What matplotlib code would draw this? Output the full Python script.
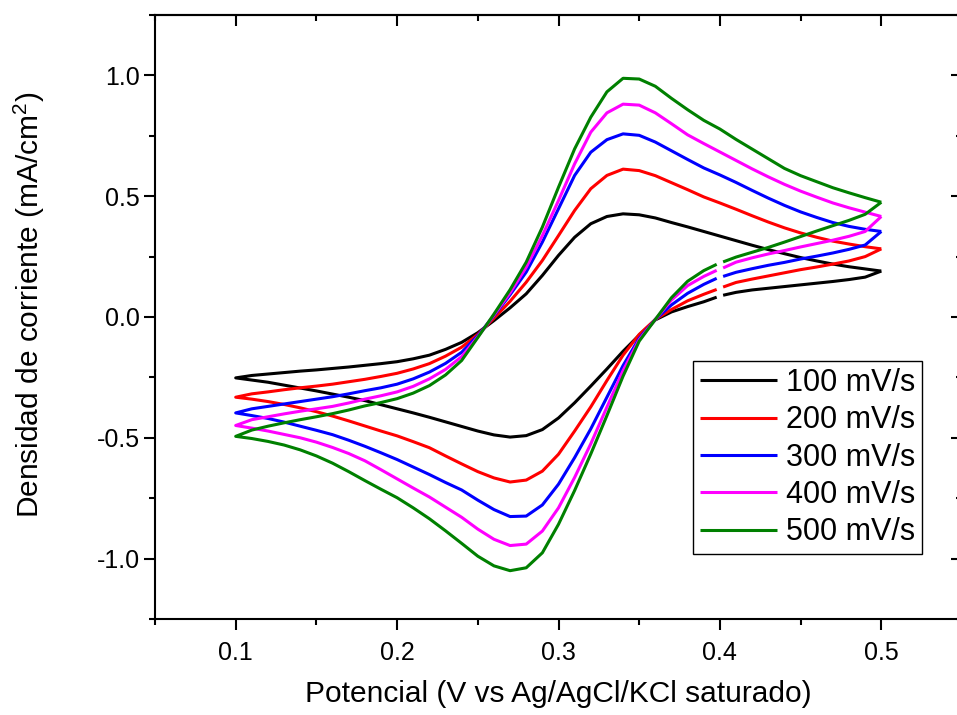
import numpy as np
import matplotlib
matplotlib.use("Agg")
import matplotlib.pyplot as plt
from matplotlib.ticker import MultipleLocator, FormatStrFormatter

plt.rcParams["font.family"] = ["Liberation Sans", "DejaVu Sans"]
plt.rcParams["mathtext.default"] = "regular"
plt.rcParams["axes.unicode_minus"] = False

# Potential grids (V). The reverse sweep starts and ends near 0.40 V,
# so that branch is stored as two pieces with a small break at 0.40 V.
E_fwd = np.round(np.arange(0.10, 0.5001, 0.01), 3)
E_rev_low = np.append(np.round(np.arange(0.10, 0.3901, 0.01), 3), 0.398)
E_rev_high = np.insert(np.round(np.arange(0.41, 0.5001, 0.01), 3), 0, 0.402)

scan_rates = ["100 mV/s", "200 mV/s", "300 mV/s", "400 mV/s", "500 mV/s"]
colors = ["#000000", "#ff0000", "#0000ff", "#ff00ff", "#008000"]

# Anodic (forward) sweep, 0.10 -> 0.50 V, current density in mA/cm2
j_fwd_100 = [-0.252, -0.242, -0.236, -0.230, -0.224, -0.219, -0.213, -0.207, -0.200, -0.193,
             -0.185, -0.173, -0.158, -0.134, -0.105, -0.065, -0.015, 0.038, 0.096, 0.172,
             0.255, 0.330, 0.386, 0.416, 0.427, 0.423, 0.410, 0.391, 0.373, 0.354,
             0.335, 0.316, 0.297, 0.279, 0.262, 0.246, 0.232, 0.219, 0.208, 0.199, 0.190]
j_fwd_200 = [-0.332, -0.318, -0.310, -0.301, -0.293, -0.286, -0.278, -0.268, -0.258, -0.246,
             -0.233, -0.215, -0.193, -0.162, -0.125, -0.072, -0.005, 0.065, 0.144, 0.234,
             0.337, 0.441, 0.531, 0.586, 0.612, 0.606, 0.585, 0.556, 0.527, 0.497,
             0.472, 0.446, 0.419, 0.393, 0.369, 0.348, 0.330, 0.314, 0.302, 0.291, 0.282]
j_fwd_300 = [-0.397, -0.380, -0.370, -0.360, -0.350, -0.340, -0.330, -0.318, -0.305, -0.293,
             -0.278, -0.256, -0.228, -0.192, -0.146, -0.077, 0.005, 0.092, 0.186, 0.310,
             0.448, 0.586, 0.682, 0.734, 0.758, 0.752, 0.724, 0.688, 0.652, 0.617,
             0.588, 0.557, 0.524, 0.492, 0.462, 0.435, 0.412, 0.391, 0.375, 0.363, 0.354]
j_fwd_400 = [-0.449, -0.425, -0.413, -0.401, -0.390, -0.380, -0.370, -0.356, -0.340, -0.326,
             -0.310, -0.287, -0.256, -0.217, -0.164, -0.082, 0.008, 0.100, 0.206, 0.337,
             0.482, 0.634, 0.765, 0.845, 0.881, 0.877, 0.845, 0.800, 0.754, 0.718,
             0.683, 0.648, 0.613, 0.580, 0.549, 0.521, 0.496, 0.472, 0.452, 0.434, 0.416]
j_fwd_500 = [-0.494, -0.468, -0.452, -0.438, -0.425, -0.413, -0.400, -0.385, -0.368, -0.354,
             -0.338, -0.315, -0.284, -0.240, -0.180, -0.085, 0.012, 0.113, 0.227, 0.372,
             0.537, 0.696, 0.827, 0.932, 0.988, 0.985, 0.955, 0.905, 0.858, 0.814,
             0.778, 0.735, 0.695, 0.655, 0.615, 0.585, 0.560, 0.535, 0.514, 0.494, 0.475]

# Cathodic (reverse) sweep below 0.40 V
j_rev_low_100 = [-0.252, -0.261, -0.270, -0.282, -0.294, -0.306, -0.319, -0.332, -0.346, -0.363,
                 -0.380, -0.397, -0.415, -0.434, -0.453, -0.472, -0.488, -0.497, -0.491, -0.466,
                 -0.418, -0.355, -0.286, -0.215, -0.142, -0.075, -0.012, 0.021, 0.043, 0.063, 0.082]
j_rev_low_200 = [-0.332, -0.340, -0.350, -0.362, -0.376, -0.392, -0.410, -0.430, -0.451, -0.472,
                 -0.492, -0.516, -0.541, -0.575, -0.608, -0.640, -0.666, -0.683, -0.675, -0.638,
                 -0.568, -0.472, -0.372, -0.263, -0.158, -0.072, -0.010, 0.031, 0.067, 0.094, 0.114]
j_rev_low_300 = [-0.397, -0.408, -0.420, -0.435, -0.452, -0.469, -0.487, -0.510, -0.535, -0.562,
                 -0.590, -0.621, -0.652, -0.685, -0.716, -0.758, -0.797, -0.826, -0.824, -0.778,
                 -0.692, -0.582, -0.463, -0.332, -0.201, -0.088, -0.010, 0.050, 0.098, 0.135, 0.160]
j_rev_low_400 = [-0.449, -0.460, -0.472, -0.486, -0.500, -0.518, -0.540, -0.565, -0.595, -0.632,
                 -0.670, -0.708, -0.745, -0.787, -0.829, -0.878, -0.920, -0.946, -0.940, -0.886,
                 -0.790, -0.664, -0.525, -0.373, -0.222, -0.094, -0.010, 0.070, 0.130, 0.168, 0.193]
j_rev_low_500 = [-0.494, -0.503, -0.515, -0.530, -0.550, -0.575, -0.605, -0.640, -0.677, -0.713,
                 -0.748, -0.790, -0.835, -0.885, -0.937, -0.990, -1.030, -1.050, -1.038, -0.976,
                 -0.858, -0.718, -0.567, -0.408, -0.245, -0.100, -0.010, 0.080, 0.148, 0.192, 0.218]

# Cathodic (reverse) sweep above 0.40 V
j_rev_high_100 = [0.090, 0.102, 0.112, 0.119, 0.126, 0.133, 0.140, 0.147, 0.155, 0.165, 0.190]
j_rev_high_200 = [0.124, 0.143, 0.157, 0.170, 0.183, 0.196, 0.207, 0.219, 0.232, 0.250, 0.282]
j_rev_high_300 = [0.168, 0.185, 0.200, 0.214, 0.226, 0.240, 0.252, 0.265, 0.280, 0.298, 0.354]
j_rev_high_400 = [0.203, 0.227, 0.245, 0.261, 0.275, 0.290, 0.304, 0.318, 0.334, 0.354, 0.416]
j_rev_high_500 = [0.228, 0.248, 0.268, 0.288, 0.310, 0.333, 0.356, 0.378, 0.400, 0.425, 0.475]

fwd = [j_fwd_100, j_fwd_200, j_fwd_300, j_fwd_400, j_fwd_500]
rev_low = [j_rev_low_100, j_rev_low_200, j_rev_low_300, j_rev_low_400, j_rev_low_500]
rev_high = [j_rev_high_100, j_rev_high_200, j_rev_high_300, j_rev_high_400, j_rev_high_500]

W, H = 957, 715
fig = plt.figure(figsize=(W / 100, H / 100), dpi=100)
ax = fig.add_axes([155 / W, 96 / H, 807 / W, 604 / H])

for label, c, jf, jl, jh in zip(scan_rates, colors, fwd, rev_low, rev_high):
    # start at 0.40 V sweeping negative, forward sweep to 0.50 V, back to 0.40 V
    x1 = np.concatenate([E_rev_low[::-1], E_fwd, E_rev_high[::-1]])
    y1 = np.concatenate([np.array(jl)[::-1], jf, np.array(jh)[::-1]])
    n1 = len(E_rev_low) + len(E_fwd)
    ax.plot(x1[:n1], y1[:n1], color=c, lw=2.2, solid_joinstyle="round",
            solid_capstyle="butt", label=label)
    ax.plot(x1[n1:], y1[n1:], color=c, lw=2.2, solid_joinstyle="round",
            solid_capstyle="butt")

ax.set_xlim(0.05, 0.55)
ax.set_ylim(-1.25, 1.25)

ax.xaxis.set_major_locator(MultipleLocator(0.1))
ax.xaxis.set_minor_locator(MultipleLocator(0.05))
ax.yaxis.set_major_locator(MultipleLocator(0.5))
ax.yaxis.set_minor_locator(MultipleLocator(0.25))
ax.xaxis.set_major_formatter(FormatStrFormatter("%.1f"))
ax.yaxis.set_major_formatter(FormatStrFormatter("%.1f"))

for s in ax.spines.values():
    s.set_linewidth(1.5)

ax.tick_params(which="both", direction="out", top=False, right=False, width=1.5,
               labelsize=18)
ax.tick_params(which="major", length=8)
ax.tick_params(which="minor", length=4.5)
ax.tick_params(axis="x", pad=8)
ax.tick_params(axis="y", pad=3)

# mirrored ticks on the top and right pointing inward
sec_x = ax.secondary_xaxis("top")
sec_x.xaxis.set_major_locator(MultipleLocator(0.1))
sec_x.xaxis.set_minor_locator(MultipleLocator(0.05))
sec_x.tick_params(which="both", direction="in", width=1.5, labeltop=False)
sec_x.tick_params(which="major", length=8)
sec_x.tick_params(which="minor", length=4.5)
sec_x.spines["top"].set_linewidth(1.5)
sec_y = ax.secondary_yaxis("right")
sec_y.yaxis.set_major_locator(MultipleLocator(0.5))
sec_y.yaxis.set_minor_locator(MultipleLocator(0.25))
sec_y.tick_params(which="both", direction="in", width=1.5, labelright=False)
sec_y.tick_params(which="major", length=8)
sec_y.tick_params(which="minor", length=4.5)

ax.set_xlabel("Potencial (V vs Ag/AgCl/KCl saturado)", fontsize=21.5, labelpad=11)
ax.set_ylabel("Densidad de corriente (mA/cm$^{2}$)", fontsize=21.5, labelpad=36, y=0.52)

leg = ax.legend(loc="lower right", bbox_to_anchor=(0.950, 0.1076), borderaxespad=0,
                fontsize=22, frameon=True, fancybox=False, handlelength=2.5,
                handletextpad=0.3, labelspacing=0.24, borderpad=0.22)
leg.get_frame().set_edgecolor("black")
leg.get_frame().set_linewidth(1.0)
leg.get_frame().set_alpha(1)

fig.savefig("out.png", dpi=100)
